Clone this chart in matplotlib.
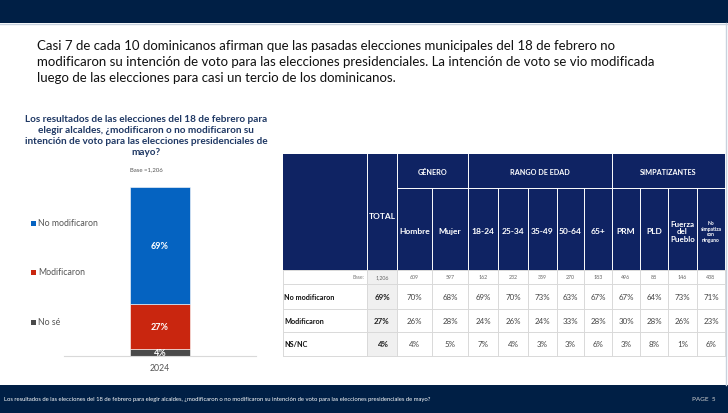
import matplotlib
matplotlib.use("Agg")
import matplotlib.pyplot as plt
from matplotlib.patches import Rectangle

plt.rcParams['font.family'] = ['Lato', 'DejaVu Sans']

# chart data
years = ['2024']
series = ['No modificaron', 'Modificaron', 'No sé']
shares = [69, 27, 4]
colors = ['#0563c1', '#c9260f', '#4a4a4a']

# table data
groups = ['GÉNERO', 'RANGO DE EDAD', 'SIMPATIZANTES']
group_sizes = [2, 5, 4]
columns = ['TOTAL', 'Hombre', 'Mujer', '18-24', '25-34', '35-49', '50-64', '65+',
           'PRM', 'PLD', 'Fuerza\ndel\nPueblo', 'No\nsimpatiza\ncon\nninguno']
bases = ['1,206', '609', '597', '162', '232', '359', '270', '183', '496', '88', '146', '438']
row_names = ['No modificaron', 'Modificaron', 'NS/NC']
rows_vals = [
    [69, 70, 68, 69, 70, 73, 63, 67, 67, 64, 73, 71],
    [27, 26, 28, 24, 26, 24, 33, 28, 30, 28, 26, 23],
    [4, 4, 5, 7, 4, 3, 3, 6, 3, 8, 1, 6],
]

title = ("Casi 7 de cada 10 dominicanos afirman que las pasadas elecciones municipales del 18 de febrero no\n"
         "modificaron su intención de voto para las elecciones presidenciales. La intención de voto se vio modificada\n"
         "luego de las elecciones para casi un tercio de los dominicanos.")
question = ("Los resultados de las elecciones del 18 de febrero para\n"
            "elegir alcaldes, ¿modificaron o no modificaron su\n"
            "intención de voto para las elecciones presidenciales de\n"
            "mayo?")
footer = ("Los resultados de las elecciones del 18 de febrero para elegir alcaldes, "
          "¿modificaron o no modificaron su intención de voto para las elecciones presidenciales de mayo?")

W, H = 728, 414
navy = '#001f45'
thead = '#0f2363'

fig = plt.figure(figsize=(W / 100, H / 100), dpi=100)
fig.patch.set_facecolor('white')

# overlay in pixel coordinates
ov = fig.add_axes([0, 0, 1, 1])
ov.set_xlim(0, W)
ov.set_ylim(H, 0)
ov.axis('off')

ov.add_patch(Rectangle((0, 0), W, 24, color=navy, lw=0))
ov.plot([0, W], [24.5, 24.5], color='#c8d2de', lw=1)
ov.plot([726, 726], [24, 386], color='#c8d2de', lw=1)
ov.add_patch(Rectangle((0, 386), W, 28, color=navy, lw=0))
ov.text(4, 400, footer, color='white', fontsize=4.2, va='center', ha='left')
ov.text(692, 400, 'PAGE  5', color='#d0d0d0', fontsize=4.6, va='center', ha='left')

ov.text(37, 62, title, fontsize=9.5, color='#111111', va='center', ha='left', linespacing=1.36)

ov.text(146, 136, question, fontsize=7.2, fontweight='bold', color='#1f3864',
        ha='center', va='center', linespacing=1.3)
ov.text(146, 170, 'Base =1,206', fontsize=4.3, color='#555555', ha='center', va='center')

# legend
leg_y = [224, 273, 323]
for name, c, y in zip(series, colors, leg_y):
    ov.add_patch(Rectangle((30.5, y - 2.5), 5, 5, color=c, lw=0))
    ov.text(38, y, name, fontsize=6.3, color='#555555', va='center', ha='left')

# stacked bar
ax = fig.add_axes([64 / W, (H - 357) / H, 192 / W, 169 / H])
ax.patch.set_alpha(0)
bottom = 0
for s, c in zip(reversed(shares), reversed(colors)):
    ax.bar(years, s, bottom=bottom, width=1.0, color=c, edgecolor='white', linewidth=0.4)
    ax.text(0, bottom + s / 2, f'{s}%', color='white', fontsize=6.5, fontweight='bold',
            ha='center', va='center')
    bottom += s
ax.set_xlim(-1.6, 1.6)
ax.set_ylim(0, 100)
for sp in ['top', 'right', 'left']:
    ax.spines[sp].set_visible(False)
ax.spines['bottom'].set_color('#d9d9d9')
ax.set_yticks([])
ax.tick_params(axis='x', length=0, labelsize=6.3, labelcolor='#555555', pad=5)

# table
xe = [283, 367, 397, 432, 468, 498, 528, 557, 584, 612, 640, 668, 697, 725]
y_top, y_grp, y_hdr, y_base = 155, 189, 271, 285
row_edges = [285, 310, 333, 357]

ov.add_patch(Rectangle((xe[0], y_top), xe[-1] - xe[0], y_hdr - y_top, color=thead, lw=0))
ov.add_patch(Rectangle((xe[1], y_hdr), xe[2] - xe[1], row_edges[-1] - y_hdr, color='#f0f0f0', lw=0))

# header lines
ov.plot([xe[2], xe[-1]], [y_grp, y_grp], color='white', lw=0.7)
for i, x in enumerate(xe[1:-1], start=1):
    ov.plot([x, x], [y_grp if i not in (1, 2, 4, 9) else y_top, y_hdr], color='white', lw=0.7)

# group labels
k = 2
for g, n in zip(groups, group_sizes):
    ov.text((xe[k] + xe[k + n]) / 2, 173, g, color='white', fontsize=5.2, fontweight='bold',
            ha='center', va='center')
    k += n
ov.text((xe[1] + xe[2]) / 2, 217, columns[0], color='white', fontsize=6, fontweight='bold',
        ha='center', va='center')
for j, col in enumerate(columns[1:], start=2):
    fs = 3.6 if col.startswith('No') else (5.8 if '\n' in col else 6.1)
    ov.text((xe[j] + xe[j + 1]) / 2, 232, col, color='white', fontsize=fs, fontweight='bold',
            ha='center', va='center', linespacing=1.15)

# body grid
grid_c = '#d9d9d9'
for y in [y_hdr, y_base] + row_edges[1:]:
    ov.plot([xe[0], xe[-1]], [y, y], color=grid_c, lw=0.7)
for x in xe:
    ov.plot([x, x], [y_hdr, row_edges[-1]], color=grid_c, lw=0.7)

ov.text(xe[1] - 3, 278, 'Base:', fontsize=3.6, color='#777777', ha='right', va='center')
for j, b in enumerate(bases):
    ov.text((xe[j + 1] + xe[j + 2]) / 2, 278, b, fontsize=3.8, color='#666666',
            ha='center', va='center')

for r, (name, vals) in enumerate(zip(row_names, rows_vals)):
    yc = (row_edges[r] + row_edges[r + 1]) / 2
    ov.text(xe[0] + 1, yc, name, fontsize=5.2, fontweight='bold', color='#111111',
            ha='left', va='center')
    for j, v in enumerate(vals):
        ov.text((xe[j + 1] + xe[j + 2]) / 2, yc, f'{v}%', fontsize=5.7,
                fontweight='bold' if j == 0 else 'normal',
                color='#222222' if j == 0 else '#444444', ha='center', va='center')

fig.savefig('out.png', dpi=100)
